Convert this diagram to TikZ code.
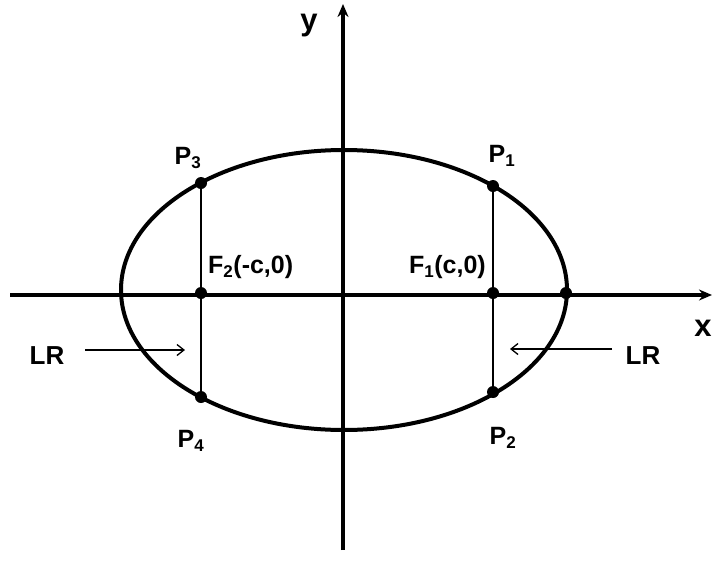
\documentclass[tikz,border=0pt]{standalone}
\usepackage{fontspec}
\setmainfont{Liberation Sans}
\usetikzlibrary{arrows.meta}
\newcommand{\sbs}[1]{\textsubscript{\fontsize{17}{17}\selectfont #1}}
\begin{document}
\begin{tikzpicture}[x=1pt,y=-1pt,
  lbl/.style={font=\fontsize{25}{27}\selectfont\bfseries, inner sep=0pt},
  big/.style={font=\fontsize{31}{33}\selectfont\bfseries, inner sep=0pt},
  lrl/.style={font=\fontsize{26}{28}\selectfont\bfseries, inner sep=0pt},
  axis/.style={line width=3.6pt,-{Stealth[length=13pt,width=11pt]}},
  chord/.style={line width=2.4pt},
  lrarrow/.style={line width=1.3pt,-{Straight Barb[length=7pt,width=11pt]}},
  dot/.style={circle,fill=black,inner sep=0pt,minimum size=12pt}]
\useasboundingbox (0,0) rectangle (713,579);
% axes
\coordinate (xl) at (10,295);
\coordinate (xr) at (712,295);
\coordinate (yb) at (343,550);
\coordinate (yt) at (343,4);
\draw[axis] (xl) -- (xr);
\draw[axis] (yb) -- (yt);
% ellipse
\draw[line width=4pt] (344,290) ellipse [x radius=223, y radius=140];
% points
\node[dot] (P3) at (201,183) {};
\node[dot] (P4) at (201,397) {};
\node[dot] (P1) at (493,186) {};
\node[dot] (P2) at (493,392) {};
\node[dot] (F2) at (201,293) {};
\node[dot] (F1) at (493,293) {};
\node[dot] (V1) at (566,293) {};
\draw[chord] (P3) -- (P4);
\draw[chord] (P1) -- (P2);
% labels
\node[big] (ly) at (309,26) {y};
\node[big] (lx) at (703,328) {x};
\node[lbl] (lP3) at (188,158) {P\sbs{3}};
\node[lbl] (lP1) at (502,156) {P\sbs{1}};
\node[lbl] (lP4) at (191,441) {P\sbs{4}};
\node[lbl] (lP2) at (503,438) {P\sbs{2}};
\node[lbl,anchor=west] (lF2) at (208,267) {F\sbs{2}(-c,0)};
\node[lbl,anchor=east] (lF1) at (486,267) {F\sbs{1}(c,0)};
\node[lrl] (LRl) at (47,356) {LR};
\node[lrl] (LRr) at (643,356) {LR};
\coordinate (al) at (85,350);
\coordinate (ar) at (185,350);
\coordinate (bl) at (510,349);
\coordinate (br) at (612,349);
\draw[lrarrow] (al) -- (ar);
\draw[lrarrow] (br) -- (bl);
\end{tikzpicture}
\end{document}
